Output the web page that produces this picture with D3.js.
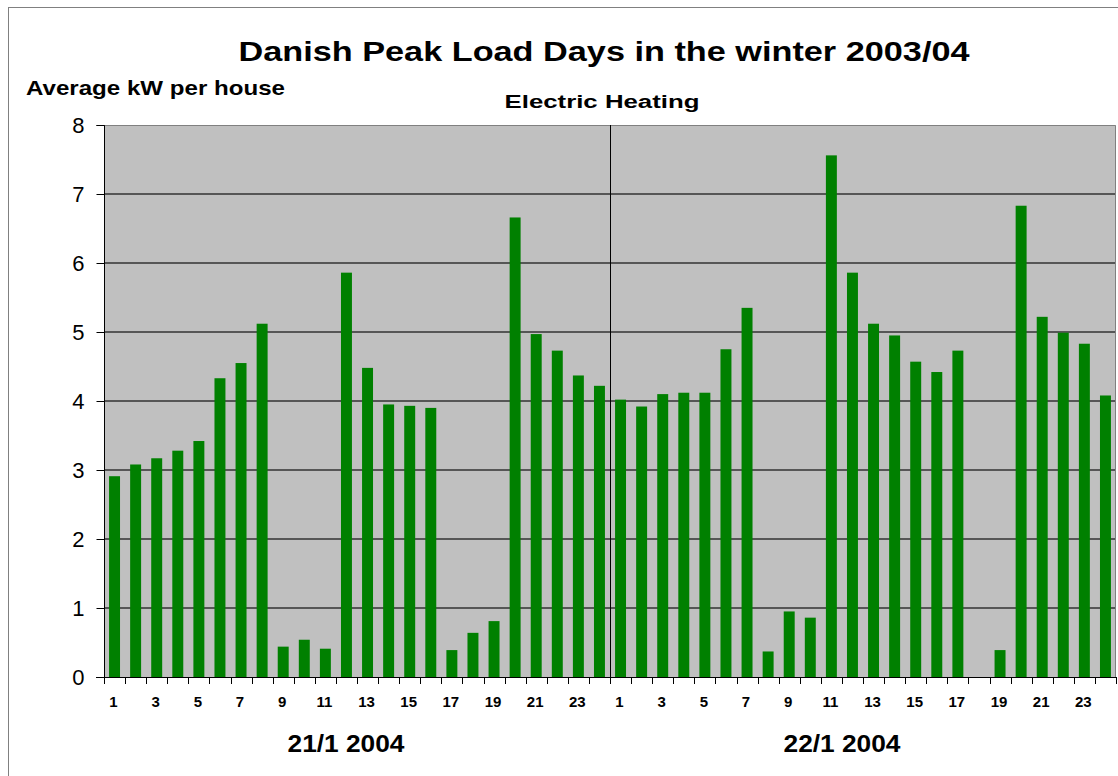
<!DOCTYPE html>
<html>
<head>
<meta charset="utf-8">
<script src="https://cdn.jsdelivr.net/npm/d3@7"></script>
<style>
  body { margin: 0; background: #fff; }
  svg { display: block; font-family: Arial, "Liberation Sans", sans-serif; }
</style>
</head>
<body>
<svg id="chart"></svg>
<script>
const width = 1118;
const height = 776;
const svg = d3.select('#chart').attr('width', width).attr('height', height);

// hours and the two peak days
const hours = d3.range(1, 25);
const days = ['21/1 2004', '22/1 2004'];
const day1 = [2.91, 3.08, 3.17, 3.28, 3.42, 4.33, 4.55, 5.12, 0.44, 0.54, 0.41, 5.86,
              4.48, 3.95, 3.93, 3.90, 0.39, 0.64, 0.81, 6.66, 4.97, 4.73, 4.37, 4.22];
const day2 = [4.02, 3.92, 4.10, 4.12, 4.12, 4.75, 5.35, 0.37, 0.95, 0.86, 7.56, 5.86,
              5.12, 4.95, 4.57, 4.42, 4.73, 0, 0.39, 6.83, 5.22, 4.99, 4.83, 4.08];
const yTicks = [0, 1, 2, 3, 4, 5, 6, 7, 8];

const data = [];
[day1, day2].forEach((vals, di) => {
    vals.forEach((v, i) => data.push({day: di, hour: hours[i], key: di + '-' + hours[i], value: v}));
});

const pLeft = 104, pRight = 1116, pTop = 125, pBottom = 677;

const x = d3.scaleBand()
    .domain(data.map(d => d.key))
    .range([pLeft, pRight])
    .paddingInner(0.48)
    .paddingOuter(0.24);
const y = d3.scaleLinear().domain([0, 8]).range([pBottom, pTop]);

// outer chart border
svg.append('rect')
    .attr('x', 8.5).attr('y', 7.5)
    .attr('width', width + 10).attr('height', height + 10)
    .attr('fill', 'none').attr('stroke', '#808080');

// plot area
svg.append('rect')
    .attr('x', pLeft).attr('y', pTop)
    .attr('width', pRight - pLeft).attr('height', pBottom - pTop)
    .attr('fill', '#c0c0c0');

// gridlines
svg.append('g').selectAll('line')
    .data(yTicks.filter(t => t > 0 && t < 8))
    .enter().append('line')
    .attr('x1', pLeft).attr('x2', pRight)
    .attr('y1', d => Math.round(y(d))).attr('y2', d => Math.round(y(d)))
    .attr('stroke', '#333').attr('stroke-width', 1.6);

// plot border top/right
svg.append('path')
    .attr('d', `M${pLeft},${pTop + 0.5}H${pRight - 0.5}V${pBottom}`)
    .attr('fill', 'none').attr('stroke', '#808080');

// bars
svg.append('g').selectAll('rect')
    .data(data)
    .enter().append('rect')
    .attr('x', d => x(d.key))
    .attr('width', x.bandwidth())
    .attr('y', d => y(d.value))
    .attr('height', d => pBottom - y(d.value))
    .attr('fill', '#008000');

// day divider
const step = x.step();
const divX = Math.round(x('1-1') - (step - x.bandwidth()) / 2) + 0.5;
svg.append('line')
    .attr('x1', divX).attr('x2', divX)
    .attr('y1', pTop).attr('y2', pBottom + 7)
    .attr('stroke', '#000');

// y axis
const yAxis = svg.append('g')
    .attr('transform', `translate(${pLeft + 0.5},0)`)
    .call(d3.axisLeft(y).tickValues(yTicks).tickSize(8).tickPadding(12));
yAxis.select('.domain').attr('d', `M-8,${pTop + 0.5}H0V${pBottom + 0.5}`).attr('stroke', '#000');
yAxis.selectAll('.tick line').attr('stroke', '#000');
yAxis.selectAll('.tick text')
    .attr('font-size', 22).attr('fill', '#000')
    .attr('font-family', 'Arial, "Liberation Sans", sans-serif');

// x axis line and ticks at slot boundaries
const xg = svg.append('g');
xg.append('line')
    .attr('x1', pLeft - 8).attr('x2', pRight)
    .attr('y1', pBottom + 0.5).attr('y2', pBottom + 0.5)
    .attr('stroke', '#000');
xg.selectAll('line.tk')
    .data(d3.range(0, 49))
    .enter().append('line')
    .attr('class', 'tk')
    .attr('x1', i => Math.round(pLeft + i * step) + 0.5)
    .attr('x2', i => Math.round(pLeft + i * step) + 0.5)
    .attr('y1', pBottom).attr('y2', pBottom + 7)
    .attr('stroke', '#000');

// hour labels (odd hours)
xg.selectAll('text')
    .data(data.filter(d => d.hour % 2 === 1))
    .enter().append('text')
    .attr('x', d => x(d.key) + x.bandwidth() / 2 - 1)
    .attr('y', 707)
    .attr('text-anchor', 'middle')
    .attr('font-size', 15).attr('font-weight', 'bold')
    .text(d => d.hour);

// day labels
const dayCenters = [346, 842];
svg.append('g').selectAll('text')
    .data(days)
    .enter().append('text')
    .attr('x', (d, i) => dayCenters[i])
    .attr('y', 752)
    .attr('text-anchor', 'middle')
    .attr('font-size', 23).attr('font-weight', 'bold')
    .attr('textLength', 117).attr('lengthAdjust', 'spacingAndGlyphs')
    .text(d => d);

// titles
svg.append('text')
    .attr('x', 604).attr('y', 61)
    .attr('text-anchor', 'middle')
    .attr('font-size', 27).attr('font-weight', 'bold')
    .attr('textLength', 731).attr('lengthAdjust', 'spacingAndGlyphs')
    .text('Danish Peak Load Days in the winter 2003/04');

svg.append('text')
    .attr('x', 26).attr('y', 95)
    .attr('font-size', 21).attr('font-weight', 'bold')
    .attr('textLength', 259).attr('lengthAdjust', 'spacingAndGlyphs')
    .text('Average kW per house');

svg.append('text')
    .attr('x', 602).attr('y', 108)
    .attr('text-anchor', 'middle')
    .attr('font-size', 18).attr('font-weight', 'bold')
    .attr('textLength', 195).attr('lengthAdjust', 'spacingAndGlyphs')
    .text('Electric Heating');
</script>
</body>
</html>
